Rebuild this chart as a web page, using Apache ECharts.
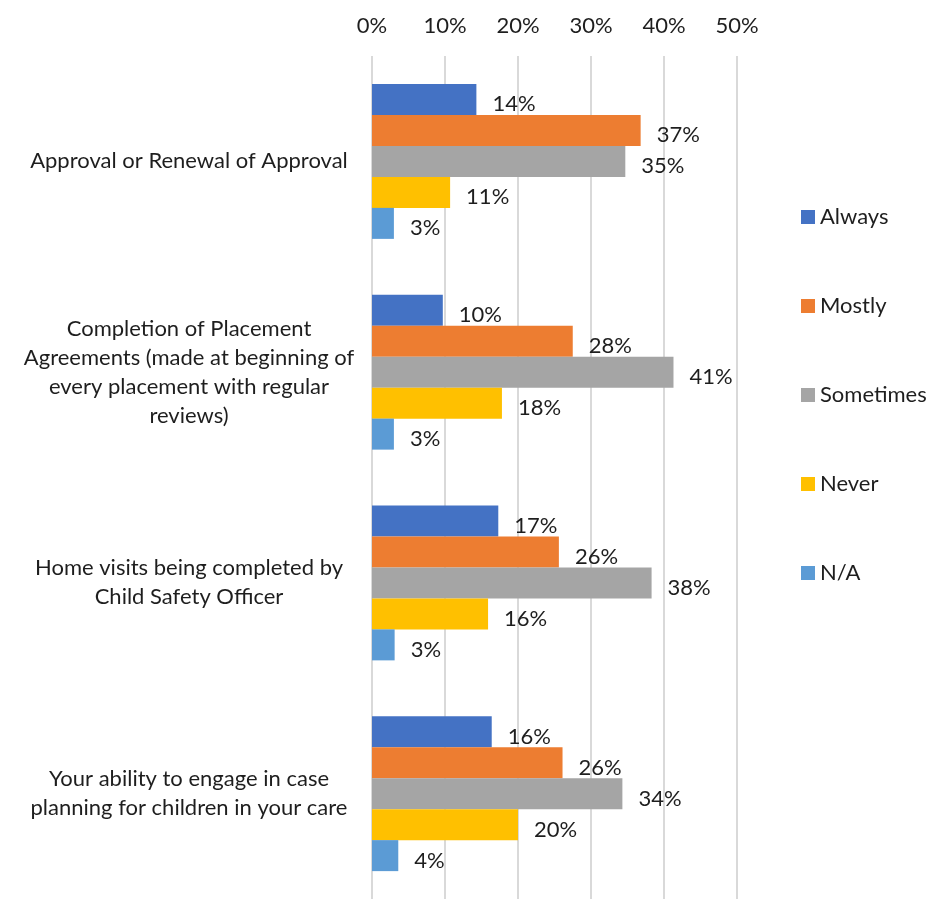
<!DOCTYPE html>
<html>
<head>
<meta charset="utf-8">
<script src="https://cdn.jsdelivr.net/npm/echarts@6/dist/echarts.min.js"></script>
<style>
  html, body { margin: 0; padding: 0; background: #fff; }
  #chart { width: 930px; height: 899px; }
</style>
</head>
<body>
<div id="chart"></div>
<script>
(function () {
    // categories top to bottom
    const categories = [
        'Approval or Renewal of Approval',
        'Completion of Placement\nAgreements (made at beginning of\nevery placement with regular\nreviews)',
        'Home visits being completed by\nChild Safety Officer',
        'Your ability to engage in case\nplanning for children in your care'
    ];

    const seriesNames = ['Always', 'Mostly', 'Sometimes', 'Never', 'N/A'];
    const colors = ['#4472C4', '#ED7D31', '#A5A5A5', '#FFC000', '#5B9BD5'];

    // percent values per series
    const always = [14.3, 9.7, 17.3, 16.4];
    const mostly = [36.8, 27.5, 25.6, 26.1];
    const sometimes = [34.7, 41.3, 38.3, 34.3];
    const never = [10.7, 17.8, 15.9, 20.0];
    const na = [3.0, 3.0, 3.1, 3.6];

    const values = [always, mostly, sometimes, never, na];
    const tickMax = 50;
    const tickStep = 10;

    const fontFamily = 'Lato';
    const fontSize = 22;
    const textColor = '#1e1e1e';

    const series = seriesNames.map(function (name, i) {
        return {
            name: name,
            type: 'bar',
            data: values[i],
            barWidth: 31,
            barGap: '0%',
            itemStyle: { color: colors[i] },
            label: {
                show: true,
                position: 'right',
                distance: 16,
                offset: [0, 5],
                color: textColor,
                fontFamily: fontFamily,
                fontSize: fontSize,
                formatter: function (p) { return Math.round(p.value) + '%'; }
            }
        };
    });

    const option = {
        animation: false,
        textStyle: { fontFamily: fontFamily },
        legend: {
            orient: 'vertical',
            left: 801,
            top: 206,
            padding: 0,
            itemWidth: 14,
            itemHeight: 14,
            itemGap: 67,
            icon: 'rect',
            textStyle: {
                color: textColor,
                fontSize: fontSize,
                fontFamily: fontFamily,
                lineHeight: 20
            },
            data: seriesNames
        },
        grid: {
            left: 372,
            top: 56,
            width: 365,
            height: 848,
            containLabel: false
        },
        xAxis: {
            type: 'value',
            position: 'top',
            min: 0,
            max: tickMax,
            interval: tickStep,
            axisLine: { show: false },
            axisTick: { show: false },
            axisLabel: {
                formatter: '{value}%',
                color: textColor,
                fontSize: fontSize,
                fontFamily: fontFamily,
                margin: 19
            },
            splitLine: { lineStyle: { color: '#D9D9D9', width: 2 } }
        },
        yAxis: {
            type: 'category',
            inverse: true,
            data: categories,
            axisLine: { show: false },
            axisTick: { show: false },
            axisLabel: {
                align: 'center',
                margin: 183,
                color: textColor,
                fontSize: fontSize,
                fontFamily: fontFamily,
                lineHeight: 29
            }
        },
        series: series
    };

    const myChart = echarts.init(document.getElementById('chart'));
    myChart.setOption(option);
}());
</script>
</body>
</html>
